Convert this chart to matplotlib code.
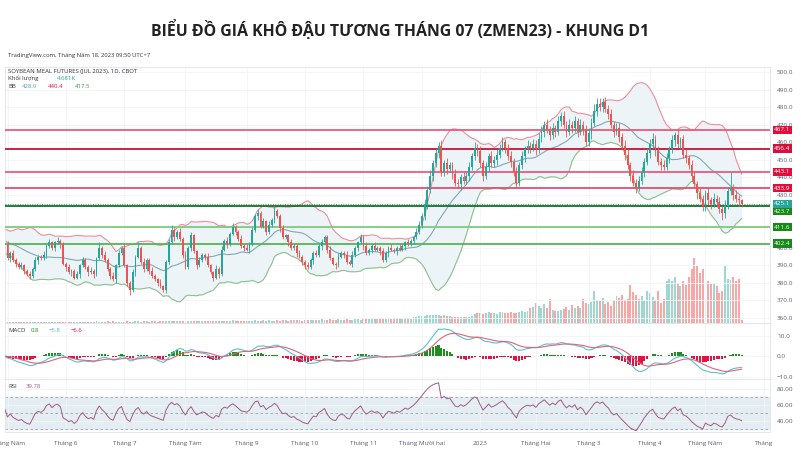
import numpy as np
import pandas as pd
import matplotlib
matplotlib.use("Agg")
import matplotlib.pyplot as plt

plt.rcParams["font.family"] = ["Open Sans", "DejaVu Sans"]

TITLE = "BIỂU ĐỒ GIÁ KHÔ ĐẬU TƯƠNG THÁNG 07 (ZMEN23) - KHUNG D1"

# closes before the visible window (only used to warm up the indicators)
warmup_closes = [398, 401, 404, 407, 405, 409, 411, 408, 406, 410, 412, 409, 405, 403, 406,
                 408, 404, 401, 399, 402, 405, 407, 404, 400, 398, 401, 403, 406, 404, 402]

# daily closes, May 2022 -> May 18 2023, one row per month
closes = (
    [394, 397, 393, 391, 389, 390, 387, 385, 384, 388, 393, 395, 394, 396, 401, 403, 400, 403, 404, 402, 391]
    + [389, 386, 387, 383, 385, 390, 393, 389, 386, 387, 385, 394, 400, 396, 393, 388, 384, 382, 390, 397, 400]
    + [390, 380, 376, 386, 395, 400, 392, 388, 393, 387, 384, 382, 380, 378, 376, 392, 403, 410, 406, 409, 405]
    + [396, 389, 400, 407, 398, 390, 393, 396, 395, 390, 386, 383, 388, 385, 399, 404, 402, 408, 412, 409, 405, 401, 400]
    + [399, 402, 410, 418, 420, 412, 415, 409, 413, 416, 421, 418, 411, 406, 407, 403, 400, 401, 397, 395, 392]
    + [390, 389, 393, 397, 396, 401, 403, 406, 399, 394, 391, 390, 395, 397, 396, 392, 391, 396, 400, 403, 406]
    + [401, 397, 399, 401, 399, 400, 398, 393, 397, 400, 399, 398, 400, 399, 401, 403, 402, 404, 406, 409, 413]
    + [418, 425, 433, 441, 448, 454, 458, 443, 448, 445, 447, 442, 437, 436, 440, 438, 441, 446, 452, 457, 455]
    + [448, 441, 446, 452, 448, 450, 453, 457, 460, 457, 452, 449, 443, 437, 447, 452, 456, 458, 457, 459]
    + [456, 462, 466, 470, 467, 464, 468, 466, 472, 475, 470, 466, 470, 468, 472, 466, 470, 467, 460]
    + [465, 471, 478, 482, 480, 483, 479, 476, 470, 466, 468, 463, 458, 453, 447, 441, 437, 434, 438, 443, 449, 454, 459]
    + [462, 455, 449, 447, 446, 451, 456, 461, 464, 459, 462, 453, 451, 447, 441, 436, 431, 428, 424]
    + [431, 427, 425, 428, 426, 422, 420, 424, 432, 434, 430, 428, 427, 425.1]
)
first_open = 402

wick_hi = (
    [2, 1, 2, 1, 1, 2, 1, 1, 2, 1, 2, 1, 1, 2, 1, 2, 1, 1, 2, 1, 1]
    + [1, 2, 1, 1, 2, 1, 2, 1, 1, 2, 1, 1, 3, 1, 2, 1, 1, 2, 1, 2, 1]
    + [2, 1, 1, 2, 1, 3, 1, 2, 1, 1, 2, 1, 1, 2, 1, 1, 2, 3, 2, 1, 2]
    + [1, 2, 1, 2, 1, 1, 2, 1, 1, 2, 1, 1, 2, 1, 2, 1, 2, 1, 2, 1, 1, 2, 1]
    + [2, 1, 2, 1, 2, 1, 2, 1, 2, 1, 3, 1, 1, 2, 1, 1, 2, 1, 1, 2, 1]
    + [1, 2, 1, 1, 2, 1, 2, 1, 1, 2, 1, 1, 2, 1, 1, 2, 1, 2, 1, 1, 2]
    + [1, 2, 1, 1, 2, 1, 1, 2, 1, 1, 2, 1, 1, 2, 1, 1, 2, 1, 1, 2, 2]
    + [2, 3, 2, 3, 2, 3, 2, 3, 2, 3, 2, 2, 3, 2, 2, 3, 2, 3, 2, 3, 2]
    + [3, 2, 3, 2, 3, 2, 3, 2, 3, 2, 2, 3, 2, 3, 2, 3, 2, 3, 2, 3]
    + [2, 3, 3, 2, 3, 2, 3, 2, 3, 2, 3, 2, 3, 2, 3, 2, 3, 2, 3]
    + [3, 3, 4, 3, 3, 2, 3, 2, 3, 2, 3, 3, 2, 3, 3, 2, 3, 2, 3, 3, 2, 3, 3]
    + [3, 2, 3, 2, 3, 3, 2, 3, 2, 3, 1, 2, 3, 2, 3, 2, 2, 3, 2]
    + [2, 3, 2, 3, 2, 3, 2, 3, 2, 9, 2, 3, 2, 1]
)
wick_lo = (
    [1, 2, 1, 2, 1, 1, 2, 1, 2, 1, 1, 2, 1, 1, 2, 1, 1, 2, 1, 2, 1]
    + [2, 1, 2, 1, 1, 2, 1, 1, 2, 1, 2, 1, 1, 2, 1, 1, 2, 1, 2, 1, 1]
    + [1, 2, 3, 1, 2, 1, 1, 2, 1, 2, 1, 1, 2, 1, 1, 2, 1, 1, 2, 1, 1]
    + [2, 1, 1, 2, 1, 2, 1, 1, 2, 1, 1, 2, 1, 2, 1, 1, 2, 1, 1, 2, 1, 1, 2]
    + [1, 2, 1, 1, 2, 1, 1, 2, 1, 1, 2, 1, 2, 1, 1, 2, 1, 1, 2, 1, 2]
    + [2, 1, 1, 2, 1, 1, 2, 1, 2, 1, 1, 2, 1, 1, 2, 1, 1, 2, 1, 2, 1]
    + [2, 1, 1, 2, 1, 1, 2, 1, 1, 2, 1, 1, 2, 1, 1, 2, 1, 1, 2, 1, 1]
    + [2, 2, 3, 2, 3, 2, 3, 2, 2, 3, 2, 3, 2, 2, 3, 2, 2, 3, 2, 2, 3]
    + [2, 3, 2, 3, 2, 2, 3, 2, 2, 3, 2, 3, 2, 3, 2, 2, 3, 2, 3, 2]
    + [3, 2, 2, 3, 2, 3, 2, 3, 2, 3, 2, 3, 2, 3, 2, 3, 2, 3, 2]
    + [2, 3, 2, 3, 2, 3, 2, 3, 2, 3, 2, 3, 2, 3, 2, 3, 2, 3, 2, 2, 3, 2, 3]
    + [2, 3, 2, 3, 2, 2, 3, 2, 3, 2, 3, 2, 3, 2, 3, 2, 3, 2, 3]
    + [3, 2, 3, 2, 3, 2, 4, 3, 2, 2, 3, 2, 3, 2]
)

# volume in thousands of contracts
volume_k = (
    [1.2, 1.0, 1.5, 1.3, 1.1, 1.4, 1.2, 1.6, 1.3, 1.0, 1.5, 1.8, 1.2, 1.4, 1.6, 1.3, 1.9, 1.5, 1.2, 1.7, 2.0]
    + [1.5, 1.8, 1.4, 2.0, 1.6, 1.9, 2.2, 1.5, 1.7, 2.1, 1.8, 2.4, 2.0, 1.6, 1.9, 2.3, 1.8, 2.5, 2.1, 1.7, 2.2]
    + [2.0, 2.6, 2.2, 1.9, 2.8, 2.4, 2.1, 2.7, 2.3, 2.0, 2.9, 2.5, 2.2, 3.0, 2.6, 2.3, 3.2, 2.8, 2.4, 3.1, 2.7]
    + [2.5, 3.0, 2.6, 3.4, 2.8, 2.4, 3.1, 2.7, 3.5, 2.9, 2.6, 3.3, 2.8, 3.6, 3.0, 2.7, 3.4, 3.1, 3.8, 3.2, 2.9, 3.6, 3.3]
    + [3.0, 3.7, 3.2, 4.0, 3.4, 3.1, 3.9, 3.5, 4.2, 3.6, 3.3, 4.1, 3.7, 4.4, 3.8, 3.5, 4.3, 3.9, 4.6, 4.0, 3.7]
    + [4.2, 4.8, 4.0, 5.1, 4.5, 4.1, 5.3, 4.7, 4.3, 5.5, 4.9, 4.4, 5.6, 5.0, 4.6, 5.8, 5.2, 4.8, 6.0, 5.4, 5.0]
    + [5.5, 6.2, 5.6, 6.8, 6.0, 5.4, 7.0, 6.3, 5.8, 7.2, 6.5, 6.0, 7.5, 6.8, 6.2, 8.0, 7.2, 6.6, 8.5, 9.5, 10.2]
    + [10.5, 11.0, 12.5, 11.8, 12.2, 11.5, 12.0, 11.0, 12.5, 10.8, 9.8, 9.0, 9.5, 8.8, 9.2, 8.5, 9.0, 9.6, 10.5, 13.5, 15.0]
    + [15.5, 14.0, 15.0, 16.5, 14.5, 15.2, 13.8, 15.8, 16.2, 14.8, 15.5, 17.0, 15.2, 14.6, 16.8, 18.0, 16.0, 17.5, 22.0, 24.0]
    + [30.0, 25.0, 23.0, 28.0, 22.0, 36.0, 20.0, 18.0, 17.5, 19.0, 21.0, 24.0, 20.0, 27.0, 23.0, 25.0, 22.0, 36.0, 30.0]
    + [29.0, 32.0, 48.0, 35.0, 33.0, 37.0, 29.0, 31.0, 26.0, 35.0, 40.0, 38.0, 42.0, 34.0, 36.0, 57.0, 46.0, 42.0, 36.0, 40.0, 33.0, 48.0, 45.0]
    + [39.0, 35.0, 48.0, 30.0, 36.0, 62.0, 66.0, 63.0, 68.0, 59.0, 55.0, 62.0, 57.0, 68.0, 80.0, 97.0, 85.0, 75.0, 81.0]
    + [33.0, 62.0, 58.0, 60.0, 55.0, 45.0, 48.0, 85.0, 66.0, 64.0, 68.0, 63.0, 66.0, 4.681]
)

# horizontal levels drawn on the chart
levels = [467.1, 456.4, 443.1, 433.9, 423.7, 411.6, 402.4]
level_line_colors = ["#ec5a7e", "#c8103a", "#ec5a7e", "#e44d70", "#1d6e1d", "#7ccc7c", "#55b555"]
level_box_colors = ["#e0103c", "#d40f3a", "#e0103c", "#e0103c", "#168a16", "#168a16", "#168a16"]
last_price = 425.1

# price scale labels (the ones hidden behind level boxes are left out)
price_ticks = [360, 370, 380, 390, 400, 430, 440, 450, 460, 470, 480, 490, 500]

# month ticks (candle index, label)
tick_idx = [0, 21, 42, 64, 86, 107, 128, 149, 170, 190, 209, 231, 251, 272]
tick_lbl = ["Tháng Năm", "Tháng 6", "Tháng 7", "Tháng Tám", "Tháng 9", "Tháng 10", "Tháng 11",
            "Tháng Mười hai", "2023", "Tháng Hai", "Tháng 3", "Tháng 4", "Tháng Năm", "Tháng"]

UP, DN = "#26a69a", "#ef5350"
GRID = "#f2f4f7"
TXT = "#5d606b"

# ---- indicators from the closes ----
allc = pd.Series(warmup_closes + closes, dtype=float)
x_all = np.arange(len(allc)) - len(warmup_closes)
mid = allc.rolling(20).mean()
sd = allc.rolling(20).std(ddof=0)
bb_up, bb_lo = mid + 2 * sd, mid - 2 * sd
macd = allc.ewm(span=12, adjust=False).mean() - allc.ewm(span=26, adjust=False).mean()
signal = macd.ewm(span=9, adjust=False).mean()
hist = macd - signal
delta = allc.diff()
ag = delta.clip(lower=0).ewm(alpha=1 / 14, adjust=False).mean()
al = (-delta.clip(upper=0)).ewm(alpha=1 / 14, adjust=False).mean()
rsi = 100 - 100 / (1 + ag / al)

c = np.array(closes, dtype=float)
o = np.concatenate([[first_open], c[:-1]])
h = np.maximum(o, c) + np.array(wick_hi)
lo = np.minimum(o, c) - np.array(wick_lo)
x = np.arange(len(c))
colors = np.where(c >= o, UP, DN)

# ---- figure layout (pixel based) ----
W, H = 801, 473
fig = plt.figure(figsize=(W / 100, H / 100), dpi=100)


def box(x0, y0, x1, y1):
    return [x0 / W, 1 - y1 / H, (x1 - x0) / W, (y1 - y0) / H]


ax = fig.add_axes(box(5, 67, 770, 323))
axm = fig.add_axes(box(5, 323, 770, 379), sharex=ax)
axr = fig.add_axes(box(5, 379, 770, 432), sharex=ax)
axv = ax.twinx()
ax.set_zorder(axv.get_zorder() + 1)
ax.patch.set_visible(False)

fig.text(0.5, 1 - 30 / H, TITLE, ha="center", va="center", fontsize=11.4, fontweight="bold", color="#222222")
fig.text(8 / W, 1 - 56 / H, "TradingView.com, Tháng Năm 18, 2023 09:50 UTC+7", fontsize=4.2,
         color="#333333", va="center")

XL = (-0.9, 274.2)
for a in (ax, axm, axr):
    a.set_xlim(*XL)
    a.yaxis.tick_right()
    a.tick_params(axis="y", length=0, labelsize=4.6, labelcolor=TXT, pad=5)
    a.tick_params(axis="x", length=0)
    for s in a.spines.values():
        s.set_color("#e0e3eb")
        s.set_linewidth(0.6)
    a.set_xticks(tick_idx)
    a.grid(True, color=GRID, linewidth=0.6)
    a.set_axisbelow(True)
plt.setp(ax.get_xticklabels(), visible=False)
plt.setp(axm.get_xticklabels(), visible=False)
axr.set_xticklabels(tick_lbl)
axr.tick_params(axis="x", labelsize=4.6, labelcolor=TXT, pad=6.5)

# ---- main pane ----
ax.set_ylim(357.2, 502.8)
ax.set_yticks(price_ticks)
ax.set_yticklabels([f"{v:.1f}" for v in price_ticks])

ax.fill_between(x_all, bb_lo, bb_up, color="#edf4f7", linewidth=0, zorder=1)
ax.plot(x_all, bb_up, color="#ec8c9c", lw=0.8, zorder=2)
ax.plot(x_all, mid, color="#7fa9b8", lw=0.8, zorder=2)
ax.plot(x_all, bb_lo, color="#8cc08c", lw=0.8, zorder=2)

for lv, lc in zip(levels, level_line_colors):
    ax.axhline(lv, color=lc, lw=1.3, zorder=3)
ax.axhline(last_price, color=UP, lw=0.7, ls=(0, (1, 1.5)), zorder=3)

ax.vlines(x, lo, h, colors=colors, lw=0.6, zorder=4)
ax.bar(x, np.maximum(np.abs(c - o), 0.35), bottom=np.minimum(o, c), width=0.66, color=colors,
       linewidth=0, zorder=5)

vol_cols = np.where(c >= o, "#9fd6d0", "#f7a8a6")
axv.bar(x, volume_k, width=0.7, color=vol_cols, linewidth=0)
axv.set_ylim(0, max(volume_k) * 256 / 65)
axv.set_yticks([])
for s in axv.spines.values():
    s.set_visible(False)

# price boxes on the right scale (423.7 pushed down below the last-price box, like the original)
box_pos = [467.1, 456.4, 443.1, 433.9, 420.8, 411.6, 402.4]
for lv, yp, bc in zip(levels, box_pos, level_box_colors):
    ax.annotate(f"{lv:.1f}", xy=(1.0163, yp), xycoords=("axes fraction", "data"), ha="center",
                va="center", fontsize=4.6, color="white", annotation_clip=False, zorder=10,
                bbox=dict(boxstyle="square,pad=0.25", fc=bc, ec="none"))
ax.annotate(f"{last_price:.1f}", xy=(1.0163, last_price), xycoords=("axes fraction", "data"),
            ha="center", va="center", fontsize=4.6, color="white", annotation_clip=False, zorder=11,
            bbox=dict(boxstyle="square,pad=0.25", fc=UP, ec="none"))


# pane legends
def legend_line(a, yfrac, parts):
    xpos = 0.004
    for txt, col in parts:
        a.text(xpos, yfrac, txt, transform=a.transAxes, fontsize=4.3, color=col, va="center")
        xpos += 0.0058 * len(txt) + 0.006


legend_line(ax, 1 - 4 / 256, [("SOYBEAN MEAL FUTURES (JUL 2023), 1D, CBOT", "#333333")])
legend_line(ax, 1 - 11 / 256, [("Khối lượng", "#333333"), ("4.681K", UP)])
legend_line(ax, 1 - 19 / 256, [("BB", "#333333"), ("428.9", "#4a9fb5"), ("440.4", "#e0103c"),
                               ("417.5", "#2e9e2e")])

# ---- MACD pane ----
axm.set_ylim(-11.15, 16.35)
axm.set_yticks([-10, 0, 10])
axm.set_yticklabels(["−10.0", "0.0", "10.0"])
hcol = np.where(hist >= 0, "#1e8f1e", "#e3123f")
axm.bar(x_all, hist, width=0.75, color=hcol, linewidth=0, zorder=2)
axm.plot(x_all, macd, color="#5bc0cc", lw=0.8, zorder=3)
axm.plot(x_all, signal, color="#d9667a", lw=0.8, zorder=3)
legend_line(axm, 1 - 8 / 56, [("MACD", "#333333"), ("0.8", "#1e8f1e"), ("−5.8", "#4fb8c8"),
                              ("−6.6", "#e0103c")])

# ---- RSI pane ----
axr.set_ylim(25.6, 92.7)
axr.set_yticks([40, 60, 80])
axr.set_yticklabels(["40.00", "60.00", "80.00"])
axr.axhspan(30, 70, color="#e4eef2", zorder=0)
for lv in (30, 50, 70):
    axr.axhline(lv, color="#9aa3ad", lw=0.6, ls=(0, (3, 3)), zorder=1)
axr.plot(x_all, rsi, color="#a05a84", lw=0.7, zorder=3)
legend_line(axr, 1 - 7 / 53, [("RSI", "#333333"), ("39.78", "#a05a84")])

fig.savefig("out.png", dpi=100)
